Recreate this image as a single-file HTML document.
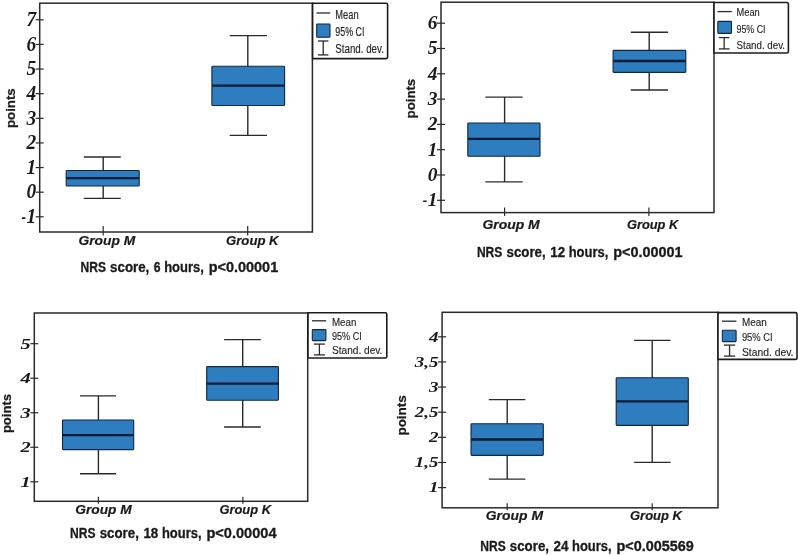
<!DOCTYPE html>
<html lang="en">
<head>
<meta charset="utf-8">
<title>NRS score box plots</title>
<style>
html,body{margin:0;padding:0;background:#fff;}
body{width:798px;height:555px;overflow:hidden;}
svg{display:block;}
</style>
</head>
<body>
<svg width="798" height="555" viewBox="0 0 798 555">
<rect x="0" y="0" width="798" height="555" fill="#ffffff"/>
<rect x="39.7" y="3.2" width="272.7" height="228.8" fill="#fff" stroke="#2a2a2a" stroke-width="1.5"/>
<line x1="35.7" y1="19.8" x2="43.7" y2="19.8" stroke="#2a2a2a" stroke-width="1.2"/>
<text transform="translate(36.2 26.1) scale(0.9700 1.0000)" font-family="'Liberation Serif', serif" font-size="20" font-weight="bold" font-style="italic" text-anchor="end" fill="#1a1a1a">7</text>
<line x1="35.7" y1="44.42" x2="43.7" y2="44.42" stroke="#2a2a2a" stroke-width="1.2"/>
<text transform="translate(36.2 50.72) scale(0.9700 1.0000)" font-family="'Liberation Serif', serif" font-size="20" font-weight="bold" font-style="italic" text-anchor="end" fill="#1a1a1a">6</text>
<line x1="35.7" y1="69.05" x2="43.7" y2="69.05" stroke="#2a2a2a" stroke-width="1.2"/>
<text transform="translate(36.2 75.35) scale(0.9700 1.0000)" font-family="'Liberation Serif', serif" font-size="20" font-weight="bold" font-style="italic" text-anchor="end" fill="#1a1a1a">5</text>
<line x1="35.7" y1="93.67" x2="43.7" y2="93.67" stroke="#2a2a2a" stroke-width="1.2"/>
<text transform="translate(36.2 99.97) scale(0.9700 1.0000)" font-family="'Liberation Serif', serif" font-size="20" font-weight="bold" font-style="italic" text-anchor="end" fill="#1a1a1a">4</text>
<line x1="35.7" y1="118.3" x2="43.7" y2="118.3" stroke="#2a2a2a" stroke-width="1.2"/>
<text transform="translate(36.2 124.6) scale(0.9700 1.0000)" font-family="'Liberation Serif', serif" font-size="20" font-weight="bold" font-style="italic" text-anchor="end" fill="#1a1a1a">3</text>
<line x1="35.7" y1="142.93" x2="43.7" y2="142.93" stroke="#2a2a2a" stroke-width="1.2"/>
<text transform="translate(36.2 149.23) scale(0.9700 1.0000)" font-family="'Liberation Serif', serif" font-size="20" font-weight="bold" font-style="italic" text-anchor="end" fill="#1a1a1a">2</text>
<line x1="35.7" y1="167.55" x2="43.7" y2="167.55" stroke="#2a2a2a" stroke-width="1.2"/>
<text transform="translate(36.2 173.85) scale(0.9700 1.0000)" font-family="'Liberation Serif', serif" font-size="20" font-weight="bold" font-style="italic" text-anchor="end" fill="#1a1a1a">1</text>
<line x1="35.7" y1="192.18" x2="43.7" y2="192.18" stroke="#2a2a2a" stroke-width="1.2"/>
<text transform="translate(36.2 198.48) scale(0.9700 1.0000)" font-family="'Liberation Serif', serif" font-size="20" font-weight="bold" font-style="italic" text-anchor="end" fill="#1a1a1a">0</text>
<line x1="35.7" y1="216.8" x2="43.7" y2="216.8" stroke="#2a2a2a" stroke-width="1.2"/>
<text transform="translate(36.2 223.1) scale(0.9700 1.0000)" font-family="'Liberation Serif', serif" font-size="20" font-weight="bold" font-style="italic" text-anchor="end" fill="#1a1a1a">1</text>
<text transform="translate(25.9 223.1) scale(0.6790 1.0000)" font-family="'Liberation Serif', serif" font-size="20" font-weight="bold" font-style="italic" text-anchor="end" fill="#1a1a1a">-</text>
<line x1="103.2" y1="226" x2="103.2" y2="235.5" stroke="#2a2a2a" stroke-width="1.2"/>
<text transform="translate(78.5 244.8)" font-family="'Liberation Sans', sans-serif" font-size="13.4" font-weight="bold" font-style="italic" text-anchor="start" fill="#1a1a1a" textLength="56.7" lengthAdjust="spacingAndGlyphs" stroke="#1a1a1a" stroke-width="0.2">Group M</text>
<line x1="247.7" y1="226" x2="247.7" y2="235.5" stroke="#2a2a2a" stroke-width="1.2"/>
<text transform="translate(226 244.8)" font-family="'Liberation Sans', sans-serif" font-size="13.4" font-weight="bold" font-style="italic" text-anchor="start" fill="#1a1a1a" textLength="52.6" lengthAdjust="spacingAndGlyphs" stroke="#1a1a1a" stroke-width="0.2">Group K</text>
<line x1="103.2" y1="157" x2="103.2" y2="198.4" stroke="#2a2a2a" stroke-width="1.4"/>
<line x1="83.8" y1="157" x2="120.8" y2="157" stroke="#2a2a2a" stroke-width="1.4"/>
<line x1="83.8" y1="198.4" x2="120.8" y2="198.4" stroke="#2a2a2a" stroke-width="1.4"/>
<rect x="66.2" y="170.5" width="73" height="15.5" rx="0.8" fill="#2e7dbe" stroke="#0e2744" stroke-width="1.1"/>
<line x1="66.5" y1="178.1" x2="138.9" y2="178.1" stroke="#071b36" stroke-width="2.3"/>
<line x1="247.8" y1="35.6" x2="247.8" y2="135.4" stroke="#2a2a2a" stroke-width="1.4"/>
<line x1="229.7" y1="35.6" x2="267" y2="35.6" stroke="#2a2a2a" stroke-width="1.4"/>
<line x1="229.7" y1="135.4" x2="267" y2="135.4" stroke="#2a2a2a" stroke-width="1.4"/>
<rect x="211.9" y="66.3" width="72.7" height="39.2" rx="0.8" fill="#2e7dbe" stroke="#0e2744" stroke-width="1.1"/>
<line x1="212.2" y1="85.7" x2="284.3" y2="85.7" stroke="#071b36" stroke-width="2.3"/>
<path d="M312.6 3.2 H386.1 Q387.6 3.2 387.6 4.7 V57.1 Q387.6 58.6 386.1 58.6 H312.6 Z" fill="#fff" stroke="#1c1c1c" stroke-width="1.6"/>
<line x1="316.4" y1="13" x2="330.3" y2="13" stroke="#2a2a2a" stroke-width="1.3"/>
<rect x="316.7" y="24" width="13.3" height="13.2" rx="0.8" fill="#2e7dbe" stroke="#0e2744" stroke-width="1.1"/>
<line x1="323.2" y1="41" x2="323.2" y2="54.9" stroke="#2a2a2a" stroke-width="1.3"/>
<line x1="318" y1="41" x2="328.4" y2="41" stroke="#2a2a2a" stroke-width="1.3"/>
<line x1="318" y1="54.9" x2="328.4" y2="54.9" stroke="#2a2a2a" stroke-width="1.3"/>
<text transform="translate(335.3 18.9) scale(1.0000 1.0800)" font-family="'Liberation Sans', sans-serif" font-size="11.6" font-weight="normal" font-style="normal" text-anchor="start" fill="#262626" textLength="23.3" lengthAdjust="spacingAndGlyphs" stroke="#262626" stroke-width="0.15">Mean</text>
<text transform="translate(335.3 36) scale(1.0000 1.0800)" font-family="'Liberation Sans', sans-serif" font-size="11.6" font-weight="normal" font-style="normal" text-anchor="start" fill="#262626" textLength="29.1" lengthAdjust="spacingAndGlyphs" stroke="#262626" stroke-width="0.15">95% CI</text>
<text transform="translate(335.3 53) scale(1.0000 1.0800)" font-family="'Liberation Sans', sans-serif" font-size="11.6" font-weight="normal" font-style="normal" text-anchor="start" fill="#262626" textLength="48.6" lengthAdjust="spacingAndGlyphs" stroke="#262626" stroke-width="0.15">Stand. dev.</text>
<text transform="translate(14.9 128) rotate(-90)" font-family="'Liberation Sans', sans-serif" font-size="13.2" font-weight="bold" font-style="normal" text-anchor="start" fill="#1a1a1a" textLength="39.7" lengthAdjust="spacingAndGlyphs" stroke="#1a1a1a" stroke-width="0.25">points</text>
<g font-family="'Liberation Sans', sans-serif" font-size="13.9" font-weight="bold" fill="#1a1a1a" stroke="#1a1a1a" stroke-width="0.3">
<text x="80.5" y="271.8" textLength="25.5" lengthAdjust="spacingAndGlyphs">NRS</text>
<text x="110.1" y="271.8" textLength="39.2" lengthAdjust="spacingAndGlyphs">score,</text>
<text x="153.8" y="271.8" textLength="6.8" lengthAdjust="spacingAndGlyphs">6</text>
<text x="164.2" y="271.8" textLength="39.6" lengthAdjust="spacingAndGlyphs">hours,</text>
<text x="208.7" y="271.8" textLength="69.5" lengthAdjust="spacingAndGlyphs">p&lt;0.00001</text>
</g>
<rect x="441" y="2.2" width="273" height="210.4" fill="#fff" stroke="#2a2a2a" stroke-width="1.5"/>
<line x1="437" y1="23.2" x2="445" y2="23.2" stroke="#2a2a2a" stroke-width="1.2"/>
<text transform="translate(437.5 29.1) scale(0.9700 0.9100)" font-family="'Liberation Serif', serif" font-size="20" font-weight="bold" font-style="italic" text-anchor="end" fill="#1a1a1a">6</text>
<line x1="437" y1="48.5" x2="445" y2="48.5" stroke="#2a2a2a" stroke-width="1.2"/>
<text transform="translate(437.5 54.4) scale(0.9700 0.9100)" font-family="'Liberation Serif', serif" font-size="20" font-weight="bold" font-style="italic" text-anchor="end" fill="#1a1a1a">5</text>
<line x1="437" y1="73.8" x2="445" y2="73.8" stroke="#2a2a2a" stroke-width="1.2"/>
<text transform="translate(437.5 79.7) scale(0.9700 0.9100)" font-family="'Liberation Serif', serif" font-size="20" font-weight="bold" font-style="italic" text-anchor="end" fill="#1a1a1a">4</text>
<line x1="437" y1="99.1" x2="445" y2="99.1" stroke="#2a2a2a" stroke-width="1.2"/>
<text transform="translate(437.5 105) scale(0.9700 0.9100)" font-family="'Liberation Serif', serif" font-size="20" font-weight="bold" font-style="italic" text-anchor="end" fill="#1a1a1a">3</text>
<line x1="437" y1="124.4" x2="445" y2="124.4" stroke="#2a2a2a" stroke-width="1.2"/>
<text transform="translate(437.5 130.3) scale(0.9700 0.9100)" font-family="'Liberation Serif', serif" font-size="20" font-weight="bold" font-style="italic" text-anchor="end" fill="#1a1a1a">2</text>
<line x1="437" y1="149.7" x2="445" y2="149.7" stroke="#2a2a2a" stroke-width="1.2"/>
<text transform="translate(437.5 155.6) scale(0.9700 0.9100)" font-family="'Liberation Serif', serif" font-size="20" font-weight="bold" font-style="italic" text-anchor="end" fill="#1a1a1a">1</text>
<line x1="437" y1="175" x2="445" y2="175" stroke="#2a2a2a" stroke-width="1.2"/>
<text transform="translate(437.5 180.9) scale(0.9700 0.9100)" font-family="'Liberation Serif', serif" font-size="20" font-weight="bold" font-style="italic" text-anchor="end" fill="#1a1a1a">0</text>
<line x1="437" y1="200.3" x2="445" y2="200.3" stroke="#2a2a2a" stroke-width="1.2"/>
<text transform="translate(437.5 206.2) scale(0.9700 0.9100)" font-family="'Liberation Serif', serif" font-size="20" font-weight="bold" font-style="italic" text-anchor="end" fill="#1a1a1a">1</text>
<text transform="translate(427.2 206.2) scale(0.6790 0.9100)" font-family="'Liberation Serif', serif" font-size="20" font-weight="bold" font-style="italic" text-anchor="end" fill="#1a1a1a">-</text>
<line x1="504.6" y1="207.6" x2="504.6" y2="216.1" stroke="#2a2a2a" stroke-width="1.2"/>
<text transform="translate(482.4 228.6)" font-family="'Liberation Sans', sans-serif" font-size="13.4" font-weight="bold" font-style="italic" text-anchor="start" fill="#1a1a1a" textLength="57.3" lengthAdjust="spacingAndGlyphs" stroke="#1a1a1a" stroke-width="0.2">Group M</text>
<line x1="648.9" y1="207.6" x2="648.9" y2="216.1" stroke="#2a2a2a" stroke-width="1.2"/>
<text transform="translate(626.9 228.6)" font-family="'Liberation Sans', sans-serif" font-size="13.4" font-weight="bold" font-style="italic" text-anchor="start" fill="#1a1a1a" textLength="51.4" lengthAdjust="spacingAndGlyphs" stroke="#1a1a1a" stroke-width="0.2">Group K</text>
<line x1="504.6" y1="97.1" x2="504.6" y2="181.9" stroke="#2a2a2a" stroke-width="1.4"/>
<line x1="485.4" y1="97.1" x2="522.6" y2="97.1" stroke="#2a2a2a" stroke-width="1.4"/>
<line x1="485.4" y1="181.9" x2="522.6" y2="181.9" stroke="#2a2a2a" stroke-width="1.4"/>
<rect x="467.8" y="123" width="72.2" height="33.2" rx="0.8" fill="#2e7dbe" stroke="#0e2744" stroke-width="1.1"/>
<line x1="468.1" y1="138.9" x2="539.7" y2="138.9" stroke="#071b36" stroke-width="2.3"/>
<line x1="649.2" y1="32.3" x2="649.2" y2="90" stroke="#2a2a2a" stroke-width="1.4"/>
<line x1="630.8" y1="32.3" x2="668.1" y2="32.3" stroke="#2a2a2a" stroke-width="1.4"/>
<line x1="630.8" y1="90" x2="668.1" y2="90" stroke="#2a2a2a" stroke-width="1.4"/>
<rect x="613.1" y="50.4" width="72.7" height="22" rx="0.8" fill="#2e7dbe" stroke="#0e2744" stroke-width="1.1"/>
<line x1="613.4" y1="61" x2="685.5" y2="61" stroke="#071b36" stroke-width="2.3"/>
<path d="M714 2.5 H786.9 Q788.4 2.5 788.4 4 V51.5 Q788.4 53 786.9 53 H714 Z" fill="#fff" stroke="#1c1c1c" stroke-width="1.6"/>
<line x1="717.5" y1="11.6" x2="731.8" y2="11.6" stroke="#2a2a2a" stroke-width="1.3"/>
<rect x="717.8" y="21.4" width="13.7" height="12" rx="0.8" fill="#2e7dbe" stroke="#0e2744" stroke-width="1.1"/>
<line x1="724.15" y1="37.6" x2="724.15" y2="48.9" stroke="#2a2a2a" stroke-width="1.3"/>
<line x1="718.8" y1="37.6" x2="729.5" y2="37.6" stroke="#2a2a2a" stroke-width="1.3"/>
<line x1="718.8" y1="48.9" x2="729.5" y2="48.9" stroke="#2a2a2a" stroke-width="1.3"/>
<text transform="translate(736.5 16.4)" font-family="'Liberation Sans', sans-serif" font-size="11.6" font-weight="normal" font-style="normal" text-anchor="start" fill="#262626" textLength="23.3" lengthAdjust="spacingAndGlyphs" stroke="#262626" stroke-width="0.15">Mean</text>
<text transform="translate(736.5 32.5)" font-family="'Liberation Sans', sans-serif" font-size="11.6" font-weight="normal" font-style="normal" text-anchor="start" fill="#262626" textLength="29" lengthAdjust="spacingAndGlyphs" stroke="#262626" stroke-width="0.15">95% CI</text>
<text transform="translate(736.5 48.5)" font-family="'Liberation Sans', sans-serif" font-size="11.6" font-weight="normal" font-style="normal" text-anchor="start" fill="#262626" textLength="48.5" lengthAdjust="spacingAndGlyphs" stroke="#262626" stroke-width="0.15">Stand. dev.</text>
<text transform="translate(414.8 118.4) rotate(-90)" font-family="'Liberation Sans', sans-serif" font-size="13.2" font-weight="bold" font-style="normal" text-anchor="start" fill="#1a1a1a" textLength="39.6" lengthAdjust="spacingAndGlyphs" stroke="#1a1a1a" stroke-width="0.25">points</text>
<g font-family="'Liberation Sans', sans-serif" font-size="13.9" font-weight="bold" fill="#1a1a1a" stroke="#1a1a1a" stroke-width="0.3">
<text x="476.9" y="256.8" textLength="25.5" lengthAdjust="spacingAndGlyphs">NRS</text>
<text x="506.5" y="256.8" textLength="39.2" lengthAdjust="spacingAndGlyphs">score,</text>
<text x="550.2" y="256.8" textLength="14.9" lengthAdjust="spacingAndGlyphs">12</text>
<text x="568.7" y="256.8" textLength="39.6" lengthAdjust="spacingAndGlyphs">hours,</text>
<text x="613.2" y="256.8" textLength="69.4" lengthAdjust="spacingAndGlyphs">p&lt;0.00001</text>
</g>
<rect x="34.3" y="313" width="273.4" height="188.3" fill="#fff" stroke="#2a2a2a" stroke-width="1.5"/>
<line x1="30.3" y1="343.7" x2="38.3" y2="343.7" stroke="#2a2a2a" stroke-width="1.2"/>
<text transform="translate(30.8 348.7) scale(1.0200 0.7700)" font-family="'Liberation Serif', serif" font-size="20" font-weight="bold" font-style="italic" text-anchor="end" fill="#1a1a1a">5</text>
<line x1="30.3" y1="378.23" x2="38.3" y2="378.23" stroke="#2a2a2a" stroke-width="1.2"/>
<text transform="translate(30.8 383.23) scale(1.0200 0.7700)" font-family="'Liberation Serif', serif" font-size="20" font-weight="bold" font-style="italic" text-anchor="end" fill="#1a1a1a">4</text>
<line x1="30.3" y1="412.75" x2="38.3" y2="412.75" stroke="#2a2a2a" stroke-width="1.2"/>
<text transform="translate(30.8 417.75) scale(1.0200 0.7700)" font-family="'Liberation Serif', serif" font-size="20" font-weight="bold" font-style="italic" text-anchor="end" fill="#1a1a1a">3</text>
<line x1="30.3" y1="447.27" x2="38.3" y2="447.27" stroke="#2a2a2a" stroke-width="1.2"/>
<text transform="translate(30.8 452.27) scale(1.0200 0.7700)" font-family="'Liberation Serif', serif" font-size="20" font-weight="bold" font-style="italic" text-anchor="end" fill="#1a1a1a">2</text>
<line x1="30.3" y1="481.8" x2="38.3" y2="481.8" stroke="#2a2a2a" stroke-width="1.2"/>
<text transform="translate(30.8 486.8) scale(1.0200 0.7700)" font-family="'Liberation Serif', serif" font-size="20" font-weight="bold" font-style="italic" text-anchor="end" fill="#1a1a1a">1</text>
<line x1="98.4" y1="496.8" x2="98.4" y2="503.8" stroke="#2a2a2a" stroke-width="1.2"/>
<text transform="translate(75.2 514.2)" font-family="'Liberation Sans', sans-serif" font-size="13.4" font-weight="bold" font-style="italic" text-anchor="start" fill="#1a1a1a" textLength="56.5" lengthAdjust="spacingAndGlyphs" stroke="#1a1a1a" stroke-width="0.2">Group M</text>
<line x1="242.9" y1="496.8" x2="242.9" y2="503.8" stroke="#2a2a2a" stroke-width="1.2"/>
<text transform="translate(219.4 514.2)" font-family="'Liberation Sans', sans-serif" font-size="13.4" font-weight="bold" font-style="italic" text-anchor="start" fill="#1a1a1a" textLength="51.6" lengthAdjust="spacingAndGlyphs" stroke="#1a1a1a" stroke-width="0.2">Group K</text>
<line x1="98.4" y1="395.9" x2="98.4" y2="473.8" stroke="#2a2a2a" stroke-width="1.4"/>
<line x1="80" y1="395.9" x2="116" y2="395.9" stroke="#2a2a2a" stroke-width="1.4"/>
<line x1="80" y1="473.8" x2="116" y2="473.8" stroke="#2a2a2a" stroke-width="1.4"/>
<rect x="62.5" y="420" width="71.2" height="29.6" rx="0.8" fill="#2e7dbe" stroke="#0e2744" stroke-width="1.1"/>
<line x1="62.8" y1="435.2" x2="133.4" y2="435.2" stroke="#071b36" stroke-width="2.3"/>
<line x1="242.7" y1="339.6" x2="242.7" y2="427" stroke="#2a2a2a" stroke-width="1.4"/>
<line x1="224.1" y1="339.6" x2="260.8" y2="339.6" stroke="#2a2a2a" stroke-width="1.4"/>
<line x1="224.1" y1="427" x2="260.8" y2="427" stroke="#2a2a2a" stroke-width="1.4"/>
<rect x="206.7" y="366.6" width="71.7" height="33.7" rx="0.8" fill="#2e7dbe" stroke="#0e2744" stroke-width="1.1"/>
<line x1="207" y1="383.7" x2="278.1" y2="383.7" stroke="#071b36" stroke-width="2.3"/>
<path d="M308 312.7 H385.3 Q386.8 312.7 386.8 314.2 V356.5 Q386.8 358 385.3 358 H308 Z" fill="#fff" stroke="#1c1c1c" stroke-width="1.6"/>
<line x1="312" y1="320.8" x2="326.2" y2="320.8" stroke="#2a2a2a" stroke-width="1.3"/>
<rect x="312.3" y="329.6" width="13.6" height="11" rx="0.8" fill="#2e7dbe" stroke="#0e2744" stroke-width="1.1"/>
<line x1="319.4" y1="344.1" x2="319.4" y2="354.9" stroke="#2a2a2a" stroke-width="1.3"/>
<line x1="313.9" y1="344.1" x2="324.9" y2="344.1" stroke="#2a2a2a" stroke-width="1.3"/>
<line x1="313.9" y1="354.9" x2="324.9" y2="354.9" stroke="#2a2a2a" stroke-width="1.3"/>
<text transform="translate(332 325.6) scale(1.0000 0.9000)" font-family="'Liberation Sans', sans-serif" font-size="11.6" font-weight="normal" font-style="normal" text-anchor="start" fill="#262626" textLength="24.4" lengthAdjust="spacingAndGlyphs" stroke="#262626" stroke-width="0.15">Mean</text>
<text transform="translate(332 339.7) scale(1.0000 0.9000)" font-family="'Liberation Sans', sans-serif" font-size="11.6" font-weight="normal" font-style="normal" text-anchor="start" fill="#262626" textLength="29.8" lengthAdjust="spacingAndGlyphs" stroke="#262626" stroke-width="0.15">95% CI</text>
<text transform="translate(332 354.2) scale(1.0000 0.9000)" font-family="'Liberation Sans', sans-serif" font-size="11.6" font-weight="normal" font-style="normal" text-anchor="start" fill="#262626" textLength="50.4" lengthAdjust="spacingAndGlyphs" stroke="#262626" stroke-width="0.15">Stand. dev.</text>
<text transform="translate(11.1 433.1) rotate(-90)" font-family="'Liberation Sans', sans-serif" font-size="13.2" font-weight="bold" font-style="normal" text-anchor="start" fill="#1a1a1a" textLength="39.1" lengthAdjust="spacingAndGlyphs" stroke="#1a1a1a" stroke-width="0.25">points</text>
<g font-family="'Liberation Sans', sans-serif" font-size="13.9" font-weight="bold" fill="#1a1a1a" stroke="#1a1a1a" stroke-width="0.3">
<text x="70.1" y="538.4" textLength="25.5" lengthAdjust="spacingAndGlyphs">NRS</text>
<text x="99.7" y="538.4" textLength="39.2" lengthAdjust="spacingAndGlyphs">score,</text>
<text x="143.4" y="538.4" textLength="14.9" lengthAdjust="spacingAndGlyphs">18</text>
<text x="161.9" y="538.4" textLength="39.6" lengthAdjust="spacingAndGlyphs">hours,</text>
<text x="206.4" y="538.4" textLength="70.1" lengthAdjust="spacingAndGlyphs">p&lt;0.00004</text>
</g>
<rect x="442.1" y="312.3" width="275.9" height="195.5" fill="#fff" stroke="#2a2a2a" stroke-width="1.5"/>
<line x1="438.1" y1="336.8" x2="446.1" y2="336.8" stroke="#2a2a2a" stroke-width="1.2"/>
<text transform="translate(438.6 341.5) scale(0.9500 0.7100)" font-family="'Liberation Serif', serif" font-size="20" font-weight="bold" font-style="italic" text-anchor="end" fill="#1a1a1a">4</text>
<line x1="438.1" y1="361.93" x2="446.1" y2="361.93" stroke="#2a2a2a" stroke-width="1.2"/>
<text transform="translate(438.6 366.63) scale(0.9500 0.7100)" font-family="'Liberation Serif', serif" font-size="20" font-weight="bold" font-style="italic" text-anchor="end" fill="#1a1a1a">3,5</text>
<line x1="438.1" y1="387.07" x2="446.1" y2="387.07" stroke="#2a2a2a" stroke-width="1.2"/>
<text transform="translate(438.6 391.77) scale(0.9500 0.7100)" font-family="'Liberation Serif', serif" font-size="20" font-weight="bold" font-style="italic" text-anchor="end" fill="#1a1a1a">3</text>
<line x1="438.1" y1="412.2" x2="446.1" y2="412.2" stroke="#2a2a2a" stroke-width="1.2"/>
<text transform="translate(438.6 416.9) scale(0.9500 0.7100)" font-family="'Liberation Serif', serif" font-size="20" font-weight="bold" font-style="italic" text-anchor="end" fill="#1a1a1a">2,5</text>
<line x1="438.1" y1="437.33" x2="446.1" y2="437.33" stroke="#2a2a2a" stroke-width="1.2"/>
<text transform="translate(438.6 442.03) scale(0.9500 0.7100)" font-family="'Liberation Serif', serif" font-size="20" font-weight="bold" font-style="italic" text-anchor="end" fill="#1a1a1a">2</text>
<line x1="438.1" y1="462.47" x2="446.1" y2="462.47" stroke="#2a2a2a" stroke-width="1.2"/>
<text transform="translate(438.6 467.17) scale(0.9500 0.7100)" font-family="'Liberation Serif', serif" font-size="20" font-weight="bold" font-style="italic" text-anchor="end" fill="#1a1a1a">1,5</text>
<line x1="438.1" y1="487.6" x2="446.1" y2="487.6" stroke="#2a2a2a" stroke-width="1.2"/>
<text transform="translate(438.6 492.3) scale(0.9500 0.7100)" font-family="'Liberation Serif', serif" font-size="20" font-weight="bold" font-style="italic" text-anchor="end" fill="#1a1a1a">1</text>
<line x1="507.2" y1="503.3" x2="507.2" y2="510.3" stroke="#2a2a2a" stroke-width="1.2"/>
<text transform="translate(485.8 519.7)" font-family="'Liberation Sans', sans-serif" font-size="13.4" font-weight="bold" font-style="italic" text-anchor="start" fill="#1a1a1a" textLength="57.2" lengthAdjust="spacingAndGlyphs" stroke="#1a1a1a" stroke-width="0.2">Group M</text>
<line x1="652.2" y1="503.3" x2="652.2" y2="510.3" stroke="#2a2a2a" stroke-width="1.2"/>
<text transform="translate(630 519.7)" font-family="'Liberation Sans', sans-serif" font-size="13.4" font-weight="bold" font-style="italic" text-anchor="start" fill="#1a1a1a" textLength="52" lengthAdjust="spacingAndGlyphs" stroke="#1a1a1a" stroke-width="0.2">Group K</text>
<line x1="507.2" y1="399.6" x2="507.2" y2="479.1" stroke="#2a2a2a" stroke-width="1.4"/>
<line x1="488.8" y1="399.6" x2="525.3" y2="399.6" stroke="#2a2a2a" stroke-width="1.4"/>
<line x1="488.8" y1="479.1" x2="525.3" y2="479.1" stroke="#2a2a2a" stroke-width="1.4"/>
<rect x="471" y="423.7" width="72.3" height="31.7" rx="0.8" fill="#2e7dbe" stroke="#0e2744" stroke-width="1.1"/>
<line x1="471.3" y1="439.5" x2="543" y2="439.5" stroke="#071b36" stroke-width="2.3"/>
<line x1="652.2" y1="340.4" x2="652.2" y2="462.4" stroke="#2a2a2a" stroke-width="1.4"/>
<line x1="634.1" y1="340.4" x2="670.6" y2="340.4" stroke="#2a2a2a" stroke-width="1.4"/>
<line x1="634.1" y1="462.4" x2="670.6" y2="462.4" stroke="#2a2a2a" stroke-width="1.4"/>
<rect x="616.2" y="377.7" width="72.1" height="47.7" rx="0.8" fill="#2e7dbe" stroke="#0e2744" stroke-width="1.1"/>
<line x1="616.5" y1="401.4" x2="688" y2="401.4" stroke="#071b36" stroke-width="2.3"/>
<path d="M718 312.6 H795.5 Q797 312.6 797 314.1 V357.9 Q797 359.4 795.5 359.4 H718 Z" fill="#fff" stroke="#1c1c1c" stroke-width="1.6"/>
<line x1="722" y1="321.2" x2="736.4" y2="321.2" stroke="#2a2a2a" stroke-width="1.3"/>
<rect x="722.3" y="330.3" width="13.8" height="11.3" rx="0.8" fill="#2e7dbe" stroke="#0e2744" stroke-width="1.1"/>
<line x1="729.55" y1="345.1" x2="729.55" y2="356.1" stroke="#2a2a2a" stroke-width="1.3"/>
<line x1="723.9" y1="345.1" x2="735.2" y2="345.1" stroke="#2a2a2a" stroke-width="1.3"/>
<line x1="723.9" y1="356.1" x2="735.2" y2="356.1" stroke="#2a2a2a" stroke-width="1.3"/>
<text transform="translate(741.9 326.1) scale(1.0000 0.9000)" font-family="'Liberation Sans', sans-serif" font-size="11.6" font-weight="normal" font-style="normal" text-anchor="start" fill="#262626" textLength="24.8" lengthAdjust="spacingAndGlyphs" stroke="#262626" stroke-width="0.15">Mean</text>
<text transform="translate(741.9 341) scale(1.0000 0.9000)" font-family="'Liberation Sans', sans-serif" font-size="11.6" font-weight="normal" font-style="normal" text-anchor="start" fill="#262626" textLength="30.8" lengthAdjust="spacingAndGlyphs" stroke="#262626" stroke-width="0.15">95% CI</text>
<text transform="translate(741.9 355.5) scale(1.0000 0.9000)" font-family="'Liberation Sans', sans-serif" font-size="11.6" font-weight="normal" font-style="normal" text-anchor="start" fill="#262626" textLength="51.6" lengthAdjust="spacingAndGlyphs" stroke="#262626" stroke-width="0.15">Stand. dev.</text>
<text transform="translate(405.8 435.6) rotate(-90)" font-family="'Liberation Sans', sans-serif" font-size="13.2" font-weight="bold" font-style="normal" text-anchor="start" fill="#1a1a1a" textLength="40.4" lengthAdjust="spacingAndGlyphs" stroke="#1a1a1a" stroke-width="0.25">points</text>
<g font-family="'Liberation Sans', sans-serif" font-size="13.9" font-weight="bold" fill="#1a1a1a" stroke="#1a1a1a" stroke-width="0.3">
<text x="480.2" y="551.3" textLength="25.5" lengthAdjust="spacingAndGlyphs">NRS</text>
<text x="509.8" y="551.3" textLength="39.2" lengthAdjust="spacingAndGlyphs">score,</text>
<text x="553.5" y="551.3" textLength="14.9" lengthAdjust="spacingAndGlyphs">24</text>
<text x="572" y="551.3" textLength="39.6" lengthAdjust="spacingAndGlyphs">hours,</text>
<text x="616.5" y="551.3" textLength="77.3" lengthAdjust="spacingAndGlyphs">p&lt;0.005569</text>
</g>
</svg>
</body>
</html>
